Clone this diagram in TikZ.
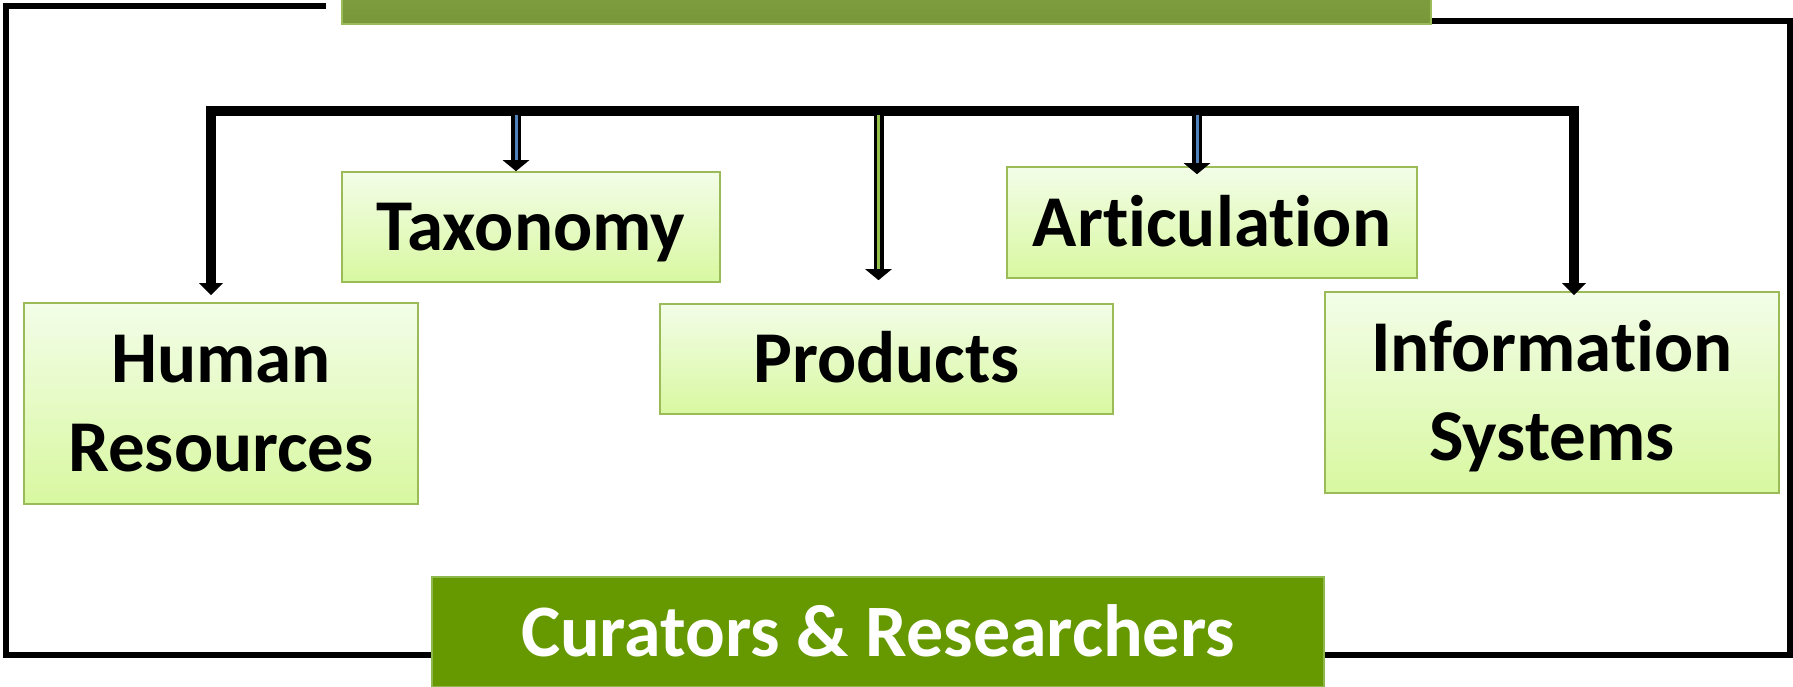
\documentclass[tikz,border=0pt]{standalone}
\usepackage{fontspec}
\setmainfont{Carlito}[Ligatures=NoCommon]
\usetikzlibrary{arrows.meta,calc}
\definecolor{lt}{HTML}{F3FDE8}
\definecolor{lb}{HTML}{D8F8A0}
\definecolor{bd}{HTML}{9BBB59}
\definecolor{dk}{HTML}{669900}
\definecolor{dkbd}{HTML}{8DB84E}
\definecolor{tt}{HTML}{89AA43}
\definecolor{tb}{HTML}{77973A}
\definecolor{blu}{HTML}{4F81BD}
\definecolor{grn}{HTML}{92C04A}
\begin{document}
\begin{tikzpicture}[x=1pt,y=-1pt,
  lbox/.style={draw=bd, line width=1.6pt, top color=lt, bottom color=lb, inner sep=0pt,
    font=\bfseries\fontsize{73}{89}\selectfont, align=center},
  one/.style={text height=47pt, text depth=0pt},
  two/.style={text height=136pt, text depth=0pt},
  frame/.style={line width=5.5pt, line join=miter},
  bus/.style={line width=9.5pt, line join=miter},
  dbl/.style={line width=10pt, -{Triangle[width=26pt,length=11pt]}},
  core/.style={line width=3pt}]
\useasboundingbox (0,0) rectangle (1793,686);
\clip (0,0) rectangle (1793,686);

% outer frame
\draw[frame] (326,6) -- (6,6) -- (6,655) -- (1790,655) -- (1790,21) -- (1430,21);

% boxes
\node[draw=bd, line width=1.6pt, top color=tt, bottom color=tb, inner sep=0pt,
  minimum width=1089pt, minimum height=80pt, anchor=south west] (coll) at (341,25) {};
\node[draw=dkbd, line width=1.2pt, fill=dk, inner sep=0pt, text=white,
  font=\bfseries\fontsize{74}{89}\selectfont, text height=48pt, text depth=0pt,
  minimum width=892pt, minimum height=110pt] (cur) at (878,632) {Curators \& Researchers};

\node[lbox, two, minimum width=394pt, minimum height=201pt] (hr) at (221,403.5) {Human\\Resources};
\node[lbox, one, minimum width=378pt, minimum height=110pt] (tax) at (531,227) {Taxonomy};
\node[lbox, one, minimum width=453pt, minimum height=110pt] (prod) at (886.5,359) {Products};
\node[lbox, one, minimum width=410pt, minimum height=111pt] (art) at (1212,222.5) {Articulation};
\node[lbox, two, minimum width=454pt, minimum height=201pt] (is) at (1552,392.5) {Information\\Systems};

% bus and arrows
\coordinate (bl) at (211,111);
\coordinate (br) at (1574,111);
\coordinate (hrtip) at ($(hr.north)+(-10,-7)$);
\coordinate (istip) at ($(is.north)+(22,4)$);
\draw[bus, {Triangle[width=23pt,length=12pt]}-{Triangle[width=23pt,length=12pt]}]
  (hrtip) -- (hrtip |- bl) -- (br) -- (br |- istip);

\coordinate (taxtip) at ($(tax.north)+(-15,0)$);
\coordinate (prodtip) at ($(prod.north)+(-8,-23)$);
\coordinate (arttip) at ($(art.north)+(-15,8)$);
\draw[dbl] (taxtip |- bl) -- (taxtip);
\draw[core, blu] ($(taxtip |- bl)+(0,4)$) -- ($(taxtip)+(0,-11)$);
\draw[dbl] (prodtip |- bl) -- (prodtip);
\draw[core, grn] ($(prodtip |- bl)+(0,4)$) -- ($(prodtip)+(0,-11)$);
\draw[dbl] (arttip |- bl) -- (arttip);
\draw[core, blu] ($(arttip |- bl)+(0,4)$) -- ($(arttip)+(0,-11)$);
\end{tikzpicture}
\end{document}
